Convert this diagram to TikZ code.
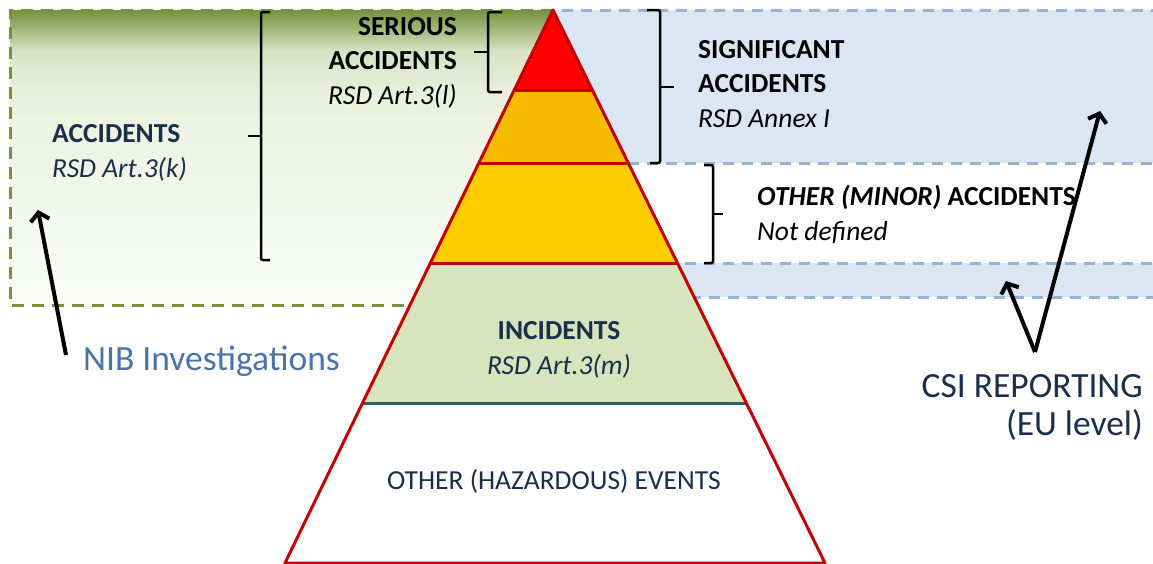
\documentclass[tikz,border=0pt]{standalone}
\usepackage{fontspec}
\setmainfont{Carlito}
\usetikzlibrary{arrows.meta,calc}
\definecolor{nibgreen}{HTML}{76923C}
\definecolor{niblight}{HTML}{EBF1DE}
\definecolor{nibpale}{HTML}{FCFDFA}
\definecolor{csifill}{HTML}{DCE6F2}
\definecolor{csidash}{HTML}{95B3D7}
\definecolor{layred}{HTML}{FF0000}
\definecolor{layorange}{HTML}{F7BC00}
\definecolor{layyellow}{HTML}{FFCC00}
\definecolor{laygreen}{HTML}{D7E4BD}
\definecolor{edgered}{HTML}{C00000}
\definecolor{edgeteal}{HTML}{2F5F6A}
\definecolor{navytext}{HTML}{1B2F4B}
\definecolor{nibblue}{HTML}{4A73A8}
\pgfdeclareverticalshading{nibshade}{100bp}{color(0bp)=(nibpale); color(25bp)=(nibpale); color(60bp)=(niblight); color(68bp)=(niblight!85!nibgreen); color(75bp)=(nibgreen); color(100bp)=(nibgreen)}

\begin{document}
\begin{tikzpicture}[x=1pt,y=-1pt,
  lbl/.style={font=\fontsize{27.5}{34.5}\selectfont, inner sep=0pt},
  boldlbl/.style={lbl, font=\fontsize{27.5}{34.5}\selectfont\bfseries},
  bigtext/.style={font=\fontsize{35.5}{38}\selectfont, inner sep=0pt},
  brace/.style={draw=black, line width=2.5pt, rounded corners=2pt},
  pointer/.style={draw=black, line width=4pt, -{Straight Barb[length=8pt,width=19pt]}},
  nibbox/.style={draw=nibgreen, line width=3pt, dash pattern=on 12pt off 8pt},
  csibox/.style={draw=csidash, fill=csifill, line width=3pt, dash pattern=on 11pt off 8pt}]
\clip (0,0) rectangle (1153,563);

\shade[shading=nibshade] (10,10) rectangle (553,305);
\draw[nibbox] (553,10) -- (10,10) -- (10,305) -- (553,305);
\draw[csibox] (553,10) rectangle (1170,163);
\draw[csibox] (553,263) rectangle (1170,297);

\coordinate (apex) at (553,10);
\coordinate (bl) at (285,563);
\coordinate (br) at (825,563);
\coordinate (l1) at ($(apex)!0.1447!(bl)$);
\coordinate (r1) at ($(apex)!0.1447!(br)$);
\coordinate (l2) at ($(apex)!0.2767!(bl)$);
\coordinate (r2) at ($(apex)!0.2767!(br)$);
\coordinate (l3) at ($(apex)!0.4575!(bl)$);
\coordinate (r3) at ($(apex)!0.4575!(br)$);
\coordinate (l4) at ($(apex)!0.7107!(bl)$);
\coordinate (r4) at ($(apex)!0.7107!(br)$);
\fill[layred] (apex) -- (l1) -- (r1) -- cycle;
\fill[layorange] (l1) -- (l2) -- (r2) -- (r1) -- cycle;
\fill[layyellow] (l2) -- (l3) -- (r3) -- (r2) -- cycle;
\fill[laygreen] (l3) -- (l4) -- (r4) -- (r3) -- cycle;
\fill[white] (l4) -- (bl) -- (br) -- (r4) -- cycle;
\draw[edgered, line width=3pt] (l1) -- (r1) (l2) -- (r2) (l3) -- (r3);
\draw[edgeteal, line width=3pt] (l4) -- (r4);
\draw[edgered, line width=3pt, line join=round] (apex) -- (bl) -- (br) -- cycle;

\draw[brace] (270,12) -| (261,260) -- (270,260);
\draw[brace] (261,136) -- (248,136);
\draw[brace] (502,12) -| (488,92) -- (502,92);
\draw[brace] (488,52) -- (474,52);
\draw[brace] (647,10) -| (660,163) -- (650,163);
\draw[brace] (660,87) -- (674,87);
\draw[brace] (704,165) -| (713,263) -- (704,263);
\draw[brace] (713,214) -- (723,214);

\node[boldlbl, anchor=base east, align=right] (serious) at (457,104)
  {SERIOUS\\ACCIDENTS\\{\mdseries\itshape RSD Art.3(l)}};
\node[boldlbl, anchor=base west, align=left, text=navytext] (accidents) at (52,177)
  {ACCIDENTS\\{\mdseries\itshape RSD Art.3(k)}};
\node[boldlbl, anchor=base west, align=left] (significant) at (698,127)
  {SIGNIFICANT\\ACCIDENTS\\{\mdseries\itshape RSD Annex I}};
\node[boldlbl, anchor=base west, align=left] (minor) at (757,240)
  {\textit{OTHER (MINOR)} ACCIDENTS\\{\mdseries\itshape Not defined}};
\node[boldlbl, anchor=base, align=center, text=navytext] (incidents) at (559,374)
  {INCIDENTS\\{\mdseries\itshape RSD Art.3(m)}};
\node[lbl, anchor=base, text=navytext] (hazard) at (554,489) {OTHER (HAZARDOUS) EVENTS};
\node[bigtext, anchor=base west, text=nibblue] (nib) at (83,370) {NIB Investigations};
\node[bigtext, anchor=base east, align=right, text=navytext] (csi) at (1143,435)
  {CSI REPORTING\\(EU level)};

\coordinate (nib-tail) at (66,355);
\coordinate (nib-head) at (38,210);
\coordinate (csi-tail) at (1035,352);
\coordinate (csi-band) at (1006,281);
\coordinate (csi-sig) at (1100,111);
\draw[pointer] (nib-tail) -- (nib-head);
\draw[pointer] (csi-tail) -- (csi-band);
\draw[pointer] (csi-tail) -- (csi-sig);
\end{tikzpicture}
\end{document}
